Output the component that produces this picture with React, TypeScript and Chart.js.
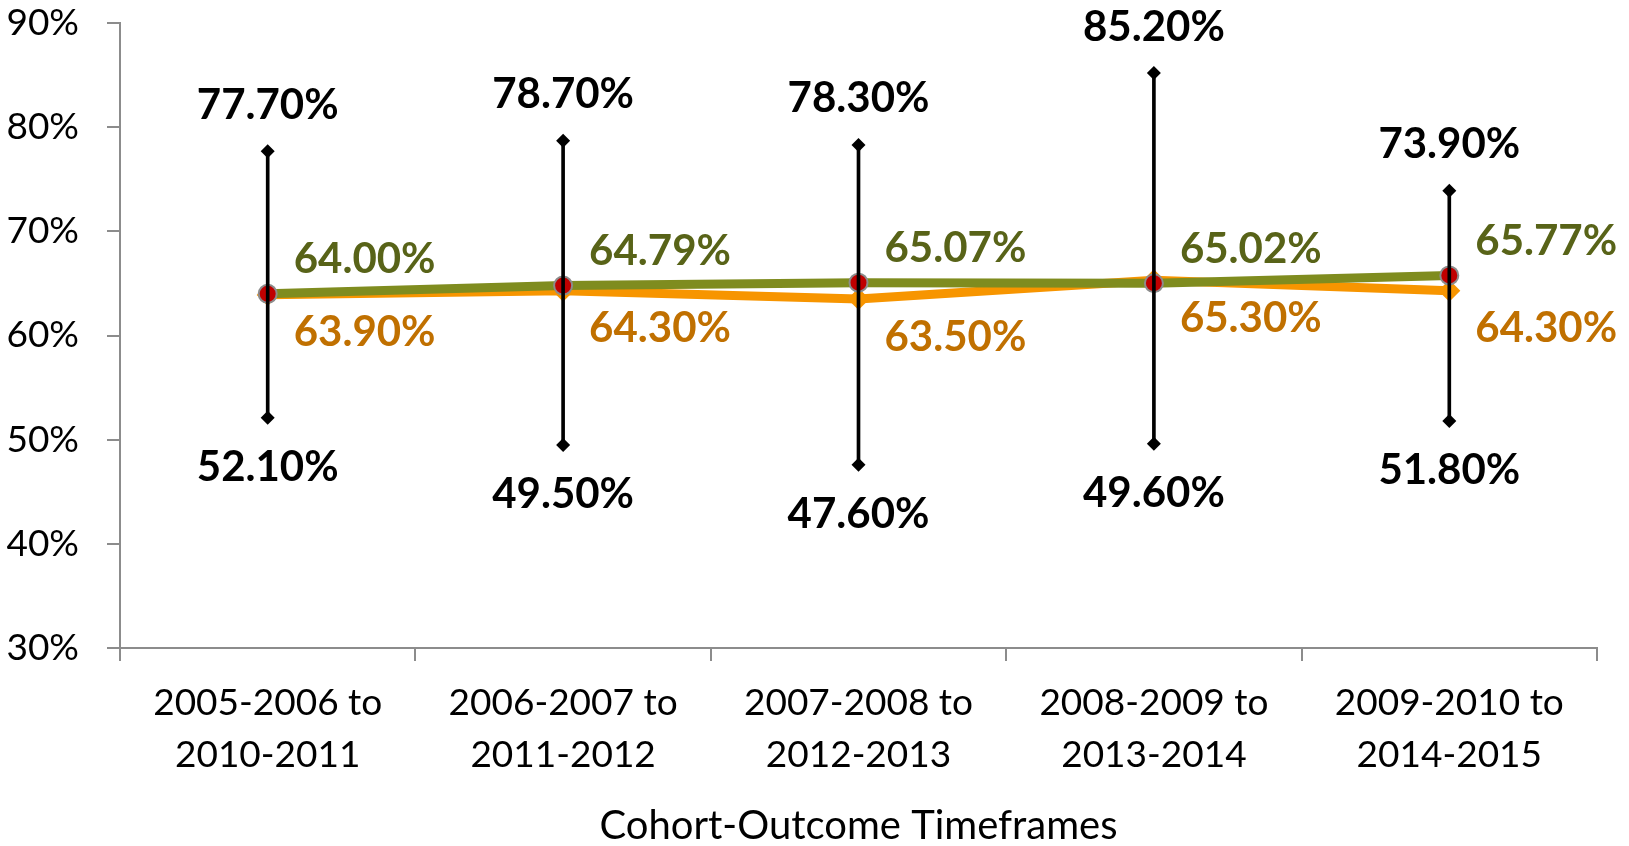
import React, { useEffect, useRef } from "react";
import { Chart, registerables } from "chart.js";

Chart.register(...registerables);

const categories: string[][] = [
  ["2005-2006 to", "2010-2011"],
  ["2006-2007 to", "2011-2012"],
  ["2007-2008 to", "2012-2013"],
  ["2008-2009 to", "2013-2014"],
  ["2009-2010 to", "2014-2015"],
];
const highValues = [77.7, 78.7, 78.3, 85.2, 73.9];
const lowValues = [52.1, 49.5, 47.6, 49.6, 51.8];
const averageValues = [64.0, 64.79, 65.07, 65.02, 65.77];
const stateValues = [63.9, 64.3, 63.5, 65.3, 64.3];
const yTicks = [30, 40, 50, 60, 70, 80, 90];
const xTitle = "Cohort-Outcome Timeframes";

const FONT = "Lato";
const GREEN = "#7F8C1F";
const GREEN_TEXT = "#586318";
const ORANGE = "#F79500";
const ORANGE_TEXT = "#C07000";
const AXIS = "#8C8C8C";

const labelPlugin = {
  id: "valueLabels",
  afterDatasetsDraw(chart: any) {
    const ctx = chart.ctx;
    ctx.save();
    ctx.font = `bold 42px ${FONT}`;
    ctx.textBaseline = "middle";
    const draw = (dsIndex: number, values: number[], color: string, align: CanvasTextAlign, dx: number, dy: number, digits: number) => {
      const meta = chart.getDatasetMeta(dsIndex);
      ctx.fillStyle = color;
      ctx.textAlign = align;
      meta.data.forEach((el: any, i: number) => {
        ctx.fillText(values[i].toFixed(digits) + "%", el.x + dx, el.y + dy);
      });
    };
    draw(0, stateValues, ORANGE_TEXT, "left", 26, 38, 2);
    draw(1, averageValues, GREEN_TEXT, "left", 26, -34, 2);
    draw(3, highValues, "#000", "center", 0, -46, 2);
    draw(4, lowValues, "#000", "center", 0, 50, 2);
    ctx.restore();
  },
};

export default function App() {
  const ref = useRef<HTMLCanvasElement | null>(null);
  useEffect(() => {
    if (!ref.current) return;
    const chart = new Chart(ref.current, {
      type: "line",
      data: {
        labels: categories as any,
        datasets: [
          {
            type: "line",
            data: stateValues,
            borderColor: ORANGE,
            backgroundColor: ORANGE,
            borderWidth: 9,
            tension: 0,
            pointStyle: "rectRot",
            pointRadius: 11,
            pointBackgroundColor: ORANGE,
            pointBorderWidth: 0,
            order: 4,
          } as any,
          {
            type: "line",
            data: averageValues,
            borderColor: GREEN,
            backgroundColor: GREEN,
            borderWidth: 9,
            tension: 0,
            pointStyle: "circle",
            pointRadius: 9,
            pointBackgroundColor: "#C00000",
            pointBorderColor: AXIS,
            pointBorderWidth: 2,
            order: 3,
          },
          {
            type: "bar",
            data: lowValues.map((l, i) => [l, highValues[i]]),
            backgroundColor: "#000",
            barThickness: 3,
            order: 2,
          },
          {
            type: "line",
            data: highValues,
            showLine: false,
            pointStyle: "rectRot",
            pointRadius: 7,
            pointBackgroundColor: "#000",
            pointBorderWidth: 0,
            order: 1,
          },
          {
            type: "line",
            data: lowValues,
            showLine: false,
            pointStyle: "rectRot",
            pointRadius: 7,
            pointBackgroundColor: "#000",
            pointBorderWidth: 0,
            order: 1,
          },
        ] as any,
      },
      options: {
        animation: false,
        responsive: true,
        maintainAspectRatio: false,
        layout: { padding: { top: 23, right: 32, left: 0, bottom: 0 } },
        plugins: { legend: { display: false }, tooltip: { enabled: false } },
        scales: {
          x: {
            offset: true,
            grid: {
              offset: true,
              drawOnChartArea: false,
              drawTicks: true,
              tickLength: 13,
              tickColor: AXIS,
              lineWidth: 2,
            },
            border: { color: AXIS, width: 2 },
            ticks: {
              color: "#000",
              font: { family: FONT, size: 37, lineHeight: 1.4 },
              padding: 16,
              maxRotation: 0,
              autoSkip: false,
            },
            title: {
              display: true,
              text: xTitle,
              color: "#000",
              font: { family: FONT, size: 40, lineHeight: 1.0 },
              padding: { top: 0, bottom: 0 },
            },
            afterFit: (scale: any) => {
              scale.height = 198;
              scale.paddingLeft = 0;
              scale.paddingRight = 0;
            },
          },
          y: {
            min: 30,
            max: 90,
            afterBuildTicks: (scale: any) => {
              scale.ticks = yTicks.map((v) => ({ value: v }));
            },
            grid: {
              drawOnChartArea: false,
              drawTicks: true,
              tickLength: 13,
              tickColor: AXIS,
              lineWidth: 2,
            },
            border: { color: AXIS, width: 2 },
            ticks: {
              color: "#000",
              font: { family: FONT, size: 37 },
              padding: 28,
              callback: (v: any) => v + "%",
            },
            afterFit: (scale: any) => {
              scale.width = 120;
              scale.paddingTop = 0;
              scale.paddingBottom = 0;
            },
          },
        },
      },
      plugins: [labelPlugin],
    });
    return () => chart.destroy();
  }, []);
  return (
    <div style={{ position: "fixed", left: 0, top: 0, width: 1629, height: 846, background: "#fff" }}>
      <canvas ref={ref} />
    </div>
  );
}
